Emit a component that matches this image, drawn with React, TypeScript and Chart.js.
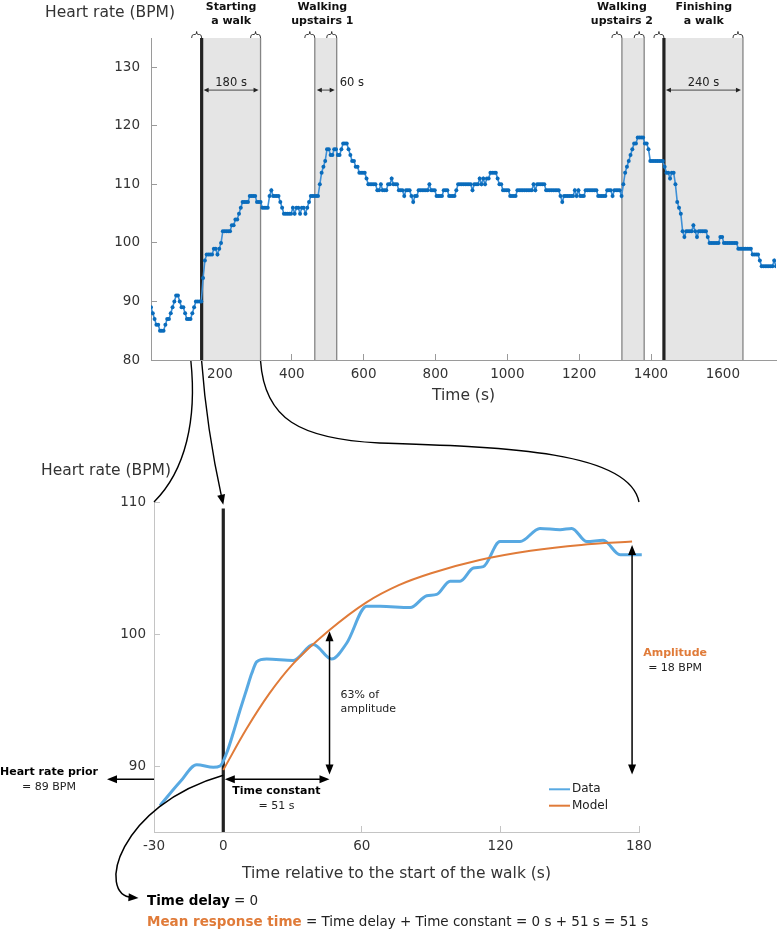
import React, { useEffect, useRef } from 'react';
import { Chart, registerables } from 'chart.js';

Chart.register(...registerables);

const FONT = "'DejaVu Sans', Verdana, sans-serif";

// ---------------- Top chart (whole recording) ----------------
const sampleStartTime = 8; // s
const sampleInterval = 5; // s
// heart-rate readings as runs: [BPM, number of consecutive samples]
const hrRuns: [number, number][] = [
  [89, 1], [88, 1], [87, 1], [86, 2], [85, 3], [86, 1], [87, 2], [88, 1], [89, 1], [90, 1],
  [91, 2], [90, 1], [89, 2], [88, 1], [87, 3], [88, 1], [89, 1], [90, 4], [94, 1], [97, 1],
  [98, 4], [99, 2], [98, 1], [99, 1], [100, 1], [102, 5], [103, 2], [104, 2], [105, 1], [106, 1],
  [107, 4], [108, 4], [107, 3], [106, 4], [108, 1], [109, 1], [108, 4], [107, 1], [106, 1], [105, 5],
  [106, 1], [105, 1], [106, 2], [105, 1], [106, 2], [105, 1], [106, 1], [107, 1], [108, 5], [110, 1],
  [112, 1], [113, 1], [114, 1], [116, 2], [115, 2], [116, 2], [115, 2], [116, 1], [117, 3], [116, 1],
  [115, 1], [114, 2], [113, 2], [112, 4], [111, 1], [110, 5], [109, 2], [110, 1], [109, 3], [110, 2],
  [111, 1], [110, 3], [109, 3], [108, 1], [109, 3], [108, 1], [107, 1], [108, 2], [109, 6], [110, 1],
  [109, 3], [108, 4], [109, 3], [108, 4], [109, 1], [110, 8], [109, 1], [110, 3], [111, 1], [110, 1],
  [111, 1], [110, 1], [111, 2], [112, 4], [111, 1], [110, 2], [109, 4], [108, 4], [109, 9], [110, 1],
  [109, 1], [110, 5], [109, 8], [108, 1], [107, 1], [108, 6], [109, 1], [108, 1], [109, 1], [108, 3],
  [109, 7], [108, 5], [109, 3], [108, 1], [109, 4], [108, 1], [110, 1], [112, 1], [113, 1], [114, 1],
  [115, 1], [116, 1], [117, 2], [118, 4], [117, 2], [116, 1], [114, 8], [113, 1], [112, 2], [111, 1],
  [112, 2], [110, 1], [107, 1], [106, 1], [105, 1], [102, 1], [101, 1], [102, 4], [103, 1], [102, 1],
  [101, 1], [102, 5], [101, 1], [100, 6], [101, 2], [100, 8], [99, 8], [98, 4], [97, 1], [96, 7],
  [97, 1], [96, 1],
];
const topXRange = [8, 1748];
const topYRange = [80, 135];
const topXTicks = [200, 400, 600, 800, 1000, 1200, 1400, 1600];
const topYTicks = [80, 90, 100, 110, 120, 130];

const phaseNames = [['Starting', 'a walk'], ['Walking', 'upstairs 1'], ['Walking', 'upstairs 2'], ['Finishing', 'a walk']];
const phaseStart = [149, 464, 1319, 1436];
const phaseEnd = [313, 525, 1381, 1656];
const phaseLabelAt = [231, 485, 1319, 1547];
const phaseThickStart = [true, false, false, true];
const phaseDuration = ['180 s', '60 s', '', '240 s'];
const durationArrowBpm = 126.1;

// ---------------- Bottom chart (start of the walk) ----------------
const relTime = [-27.4, -18.7, -11.5, -4.3, -1.4, 1.5, 4.3, 7.2, 10.1, 12.3, 14.5, 18.8, 30.3, 39.0, 46.9, 53.4, 62.1, 67.9, 80.9, 88.1, 92.4, 98.2, 102.5, 108.3, 112.6, 119.8, 128.5, 137.1, 145.8, 150.9, 157.4, 164.5, 171.8, 181.2];
const relHr = [87.0, 88.8, 90.1, 89.9, 90.0, 91.0, 92.5, 94.2, 95.8, 97.0, 97.9, 98.1, 98.0, 99.2, 98.1, 99.3, 102.1, 102.1, 102.0, 102.9, 103.0, 104.0, 104.0, 105.0, 105.1, 107.0, 107.0, 108.0, 107.9, 108.0, 107.0, 107.1, 106.0, 106.0];
const modelTime = [0, 10, 20, 30, 46, 62, 76, 90, 111, 133, 155, 177];
const modelHr = [89.7, 92.8, 95.5, 97.7, 100.3, 102.4, 103.7, 104.6, 105.6, 106.3, 106.75, 107.0];
const relXRange = [-30, 180];
const relYRange = [85, 110];
const relXTicks = [-30, 0, 60, 120, 180];
const relYTicks = [90, 100, 110];

const walkStartTime = 149;
const heartRatePrior = 89;
const amplitudeBpm = 18;
const timeConstantS = 51;
const timeDelayS = 0;
const tauMarkTime = 46;
const tauMarkBpm = 100.2;
const amplitudeMarkTime = 177;
const amplitudeTopBpm = 106.75;
const verticalArrowBaseBpm = 89.35;
const walkLineTopBpm = 109.5;

const BLUE_DOT = '#0a6cbc';
const BLUE_LINE = '#3d8fd6';
const DATA_BLUE = '#58a9e2';
const MODEL_ORANGE = '#e07b39';
const TEXT = '#333333';

const BOT_TOP = 360;

// ---------- drawing helpers ----------
function head(ctx: CanvasRenderingContext2D, x: number, y: number, ang: number, len: number, hw: number) {
  const c = Math.cos(ang), s = Math.sin(ang);
  ctx.beginPath();
  ctx.moveTo(x, y);
  ctx.lineTo(x - len * c - hw * s, y - len * s + hw * c);
  ctx.lineTo(x - len * c + hw * s, y - len * s - hw * c);
  ctx.closePath();
  ctx.fill();
}
function arrow(ctx: CanvasRenderingContext2D, x0: number, y0: number, x1: number, y1: number, both: boolean, len: number, hw: number) {
  const ang = Math.atan2(y1 - y0, x1 - x0);
  const c = Math.cos(ang), s = Math.sin(ang);
  const sx = both ? x0 + c * len * 0.7 : x0;
  const sy = both ? y0 + s * len * 0.7 : y0;
  ctx.beginPath();
  ctx.moveTo(sx, sy);
  ctx.lineTo(x1 - c * len * 0.7, y1 - s * len * 0.7);
  ctx.stroke();
  head(ctx, x1, y1, ang, len, hw);
  if (both) head(ctx, x0, y0, ang + Math.PI, len, hw);
}
function text(ctx: CanvasRenderingContext2D, s: string, x: number, y: number, size: number, opts: any = {}) {
  ctx.font = `${opts.bold ? 'bold ' : ''}${size}px ${FONT}`;
  ctx.fillStyle = opts.color || '#111';
  ctx.textAlign = opts.align || 'left';
  ctx.textBaseline = opts.baseline || 'middle';
  ctx.fillText(s, x, y);
  return ctx.measureText(s).width;
}
function brace(ctx: CanvasRenderingContext2D, xr: number, yb: number) {
  const xl = xr - 10, xm = xr - 5, h = 3.5;
  ctx.beginPath();
  ctx.moveTo(xl, yb);
  ctx.quadraticCurveTo(xl, yb - h, xl + 2, yb - h);
  ctx.lineTo(xm - 1.5, yb - h);
  ctx.quadraticCurveTo(xm, yb - h, xm, yb - 6.5);
  ctx.quadraticCurveTo(xm, yb - h, xm + 1.5, yb - h);
  ctx.lineTo(xr - 2, yb - h);
  ctx.quadraticCurveTo(xr, yb - h, xr, yb);
  ctx.stroke();
}

// ---------- top chart ----------
function buildTopPoints() {
  const pts: { x: number; y: number }[] = [];
  let t = sampleStartTime;
  for (const [bpm, n] of hrRuns) {
    for (let i = 0; i < n; i++) {
      pts.push({ x: t, y: bpm });
      t += sampleInterval;
    }
  }
  return pts;
}

const topAnnotations = {
  id: 'topAnnotations',
  beforeDatasetsDraw(chart: any) {
    const { ctx, chartArea, scales } = chart;
    const { top, bottom } = chartArea;
    const xs = scales.x, ys = scales.y;
    ctx.save();
    ctx.fillStyle = '#e5e5e5';
    phaseStart.forEach((s, i) => {
      const x0 = xs.getPixelForValue(s), x1 = xs.getPixelForValue(phaseEnd[i]);
      ctx.fillRect(x0, top, x1 - x0, bottom - top);
    });
    phaseStart.forEach((s, i) => {
      [s, phaseEnd[i]].forEach((t, k) => {
        const px = xs.getPixelForValue(t);
        const thick = k === 0 && phaseThickStart[i];
        ctx.strokeStyle = thick ? '#222' : '#858585';
        ctx.lineWidth = thick ? 3.2 : 1.3;
        ctx.beginPath();
        ctx.moveTo(px, top);
        ctx.lineTo(px, bottom);
        ctx.stroke();
        ctx.strokeStyle = '#222';
        ctx.lineWidth = 0.9;
        brace(ctx, px, top);
      });
    });
    // duration arrows
    const ay = ys.getPixelForValue(durationArrowBpm);
    ctx.strokeStyle = '#222';
    ctx.fillStyle = '#222';
    ctx.lineWidth = 0.8;
    phaseStart.forEach((s, i) => {
      if (!phaseDuration[i]) return;
      const x0 = xs.getPixelForValue(s) + 2, x1 = xs.getPixelForValue(phaseEnd[i]) - 2;
      arrow(ctx, x0, ay, x1, ay, true, 5, 2.3);
      ctx.font = `11.5px ${FONT}`;
      const w = ctx.measureText(phaseDuration[i]).width;
      if (w < x1 - x0 - 6) {
        text(ctx, phaseDuration[i], (x0 + x1) / 2, ay - 4.5, 11.5, { align: 'center', baseline: 'alphabetic', color: '#222' });
      } else {
        text(ctx, phaseDuration[i], x1 + 5, ay - 4.5, 11.5, { align: 'left', baseline: 'alphabetic', color: '#222' });
      }
    });
    ctx.restore();
  },
  afterDraw(chart: any) {
    const { ctx, chartArea, scales } = chart;
    ctx.save();
    phaseNames.forEach((lines, i) => {
      const cx = scales.x.getPixelForValue(phaseLabelAt[i]);
      text(ctx, lines[0], cx, 10, 11, { bold: true, align: 'center', baseline: 'alphabetic', color: '#111' });
      text(ctx, lines[1], cx, 24, 11, { bold: true, align: 'center', baseline: 'alphabetic', color: '#111' });
    });
    text(ctx, 'Heart rate (BPM)', chartArea.left - 106, 13, 15.5, { color: TEXT });
    ctx.restore();
  },
};

function topConfig(): any {
  return {
    type: 'line',
    data: {
      datasets: [
        {
          label: 'Heart rate',
          data: buildTopPoints(),
          borderColor: BLUE_LINE,
          borderWidth: 1.6,
          pointRadius: 2,
          pointBorderWidth: 0,
          pointBackgroundColor: BLUE_DOT,
          tension: 0,
        },
      ],
    },
    options: {
      responsive: false,
      animation: false,
      events: [],
      layout: { padding: { top: 38, right: 2, left: 0, bottom: 0 } },
      plugins: { legend: { display: false }, tooltip: { enabled: false } },
      scales: {
        x: {
          type: 'linear',
          min: topXRange[0],
          max: topXRange[1],
          afterBuildTicks: (s: any) => { s.ticks = topXTicks.map((v) => ({ value: v })); },
          afterFit: (s: any) => { s.height = 60; },
          grid: { drawOnChartArea: false, drawTicks: true, tickLength: -6, color: '#9a9a9a', tickColor: '#9a9a9a' },
          border: { color: '#9a9a9a', width: 1 },
          ticks: { padding: 12.4, color: TEXT, font: { size: 13.5, family: FONT }, maxRotation: 0, autoSkip: false, callback: (v: any) => String(v) },
          title: { display: true, text: 'Time (s)', color: TEXT, font: { size: 15.5, family: FONT }, padding: { top: 0, bottom: 14.7 } },
        },
        y: {
          type: 'linear',
          min: topYRange[0],
          max: topYRange[1],
          afterBuildTicks: (s: any) => { s.ticks = topYTicks.map((v) => ({ value: v })); },
          afterFit: (s: any) => { s.width = 151; },
          grid: { drawOnChartArea: false, drawTicks: true, tickLength: -6, color: '#9a9a9a', tickColor: '#9a9a9a' },
          border: { color: '#9a9a9a', width: 1 },
          ticks: { padding: 17, color: TEXT, font: { size: 13.5, family: FONT }, callback: (v: any) => String(v) },
        },
      },
    },
    plugins: [topAnnotations],
  };
}

// ---------- bottom chart ----------
function makeBottomPlugin(getTop: () => any) {
  return {
    id: 'bottomAnnotations',
    beforeDatasetsDraw(chart: any) {
      const { ctx, chartArea, scales } = chart;
      ctx.save();
      ctx.strokeStyle = '#222';
      ctx.lineWidth = 3.2;
      const x0 = scales.x.getPixelForValue(0);
      ctx.beginPath();
      ctx.moveTo(x0, scales.y.getPixelForValue(walkLineTopBpm));
      ctx.lineTo(x0, chartArea.bottom);
      ctx.stroke();
      ctx.restore();
    },
    afterDraw(chart: any) {
      const { ctx, chartArea, scales } = chart;
      const { left, right, top, bottom } = chartArea;
      const xp = (v: number) => scales.x.getPixelForValue(v);
      const yp = (v: number) => scales.y.getPixelForValue(v);
      ctx.save();
      ctx.strokeStyle = '#000';
      ctx.fillStyle = '#000';
      ctx.lineWidth = 1.5;

      const yPrior = yp(heartRatePrior);
      // Heart rate prior
      arrow(ctx, left, yPrior, left - 47, yPrior, false, 10, 4);
      text(ctx, 'Heart rate prior', left - 105, yPrior - 6.6, 11, { bold: true, align: 'center', color: '#000' });
      text(ctx, `= ${heartRatePrior} BPM`, left - 105, yPrior + 8, 11, { align: 'center', color: '#222' });

      // Time constant
      ctx.fillStyle = '#000';
      arrow(ctx, xp(timeDelayS) + 1.5, yPrior, xp(tauMarkTime), yPrior, true, 10, 4);
      const tcx = (xp(timeDelayS) + xp(tauMarkTime)) / 2;
      text(ctx, 'Time constant', tcx, yPrior + 11.5, 11, { bold: true, align: 'center', color: '#000' });
      text(ctx, `= ${timeConstantS} s`, tcx, yPrior + 27, 11, { align: 'center', color: '#222' });

      // 63% of amplitude
      ctx.fillStyle = '#000';
      const xt = xp(tauMarkTime);
      arrow(ctx, xt, yp(verticalArrowBaseBpm), xt, yp(tauMarkBpm), true, 10, 4);
      text(ctx, '63% of', xt + 11, yp(tauMarkBpm) + 63.6, 11, { color: '#222' });
      text(ctx, 'amplitude', xt + 11, yp(tauMarkBpm) + 77.9, 11, { color: '#222' });

      // Amplitude
      ctx.fillStyle = '#000';
      const xa = xp(amplitudeMarkTime);
      arrow(ctx, xa, yp(verticalArrowBaseBpm), xa, yp(amplitudeTopBpm), true, 10, 4);
      text(ctx, 'Amplitude', xa + 43, yPrior - 126, 11, { bold: true, align: 'center', color: MODEL_ORANGE });
      text(ctx, `= ${amplitudeBpm} BPM`, xa + 43, yPrior - 111.5, 11, { align: 'center', color: '#222' });

      // Legend
      const lx0 = right - 90, lx1 = right - 69;
      [[DATA_BLUE, 'Data', bottom - 42.7], [MODEL_ORANGE, 'Model', bottom - 26.3]].forEach(([c, l, ly]: any) => {
        ctx.strokeStyle = c;
        ctx.lineWidth = 2;
        ctx.beginPath();
        ctx.moveTo(lx0, ly);
        ctx.lineTo(lx1, ly);
        ctx.stroke();
        text(ctx, l, lx1 + 2, ly, 12, { color: '#222' });
      });

      // Captions
      const capX = left - 7;
      const capY1 = bottom + 69;
      const capY2 = bottom + 90;
      const w1 = text(ctx, 'Time delay', capX, capY1, 13.5, { bold: true, color: '#000' });
      text(ctx, ` = ${timeDelayS}`, capX + w1, capY1, 13.5, { color: '#222' });
      const w2 = text(ctx, 'Mean response time', capX, capY2, 13.5, { bold: true, color: MODEL_ORANGE });
      text(ctx, ` = Time delay + Time constant = ${timeDelayS} s + ${timeConstantS} s = ${timeDelayS + timeConstantS} s`, capX + w2, capY2, 13.5, { color: '#222' });

      // Time delay curve
      ctx.strokeStyle = '#000';
      ctx.fillStyle = '#000';
      ctx.lineWidth = 1.5;
      const s0x = xp(timeDelayS), s0y = yp(89.3);
      const ex = capX - 8.5, ey = capY1 - 3;
      const c2x = ex - 43, c2y = ey - 3;
      ctx.beginPath();
      ctx.moveTo(s0x, s0y);
      ctx.bezierCurveTo(s0x - 105, s0y + 30, c2x, c2y, ex - 6, ey - 0.5);
      ctx.stroke();
      head(ctx, ex, ey, Math.atan2(ey - c2y, ex - c2x), 10, 4);

      // Connectors from the top chart
      const tc = getTop();
      if (tc && tc.scales && tc.scales.x) {
        const tx = tc.scales.x;
        const ty0 = tc.chartArea.bottom - BOT_TOP + 1;
        ctx.lineWidth = 1.4;
        // left edge of window
        const a0x = tx.getPixelForValue(walkStartTime + relXRange[0]);
        const a3x = xp(relXRange[0]), a3y = yp(relYRange[1]);
        ctx.beginPath();
        ctx.moveTo(a0x, ty0);
        ctx.bezierCurveTo(a0x + 6, ty0 + 58, a3x + 32, a3y - 32, a3x, a3y);
        ctx.stroke();
        // walk start
        const b0x = tx.getPixelForValue(walkStartTime);
        const b3x = xp(0), b3y = yp(109.8);
        const bcx = b0x + 5, bcy = ty0 + 68;
        const ang = Math.atan2(b3y - bcy, b3x - bcx);
        ctx.beginPath();
        ctx.moveTo(b0x, ty0);
        ctx.quadraticCurveTo(bcx, bcy, b3x - Math.cos(ang) * 7, b3y - Math.sin(ang) * 7);
        ctx.stroke();
        head(ctx, b3x, b3y, ang, 10, 4);
        // right edge of window
        const c0x = tx.getPixelForValue(phaseEnd[0]);
        const c3x = xp(relXRange[1]), c3y = yp(relYRange[1]);
        const mx = c0x + 119, my = ty0 + 82;
        ctx.beginPath();
        ctx.moveTo(c0x, ty0);
        ctx.bezierCurveTo(c0x + 4, ty0 + 58, c0x + 39, ty0 + 78, mx, my);
        ctx.bezierCurveTo(mx + 120, my + 4, c3x - 10, c3y - 52, c3x, c3y);
        ctx.stroke();
      }

      // y title
      text(ctx, 'Heart rate (BPM)', 41, top - 31, 15.5, { color: TEXT });
      ctx.restore();
    },
  };
}

function bottomConfig(getTop: () => any): any {
  return {
    type: 'line',
    data: {
      datasets: [
        {
          label: 'Data',
          data: relTime.map((t, i) => ({ x: t, y: relHr[i] })),
          borderColor: DATA_BLUE,
          borderWidth: 3,
          pointRadius: 0,
          cubicInterpolationMode: 'monotone',
          clip: 8,
          order: 2,
        },
        {
          label: 'Model',
          data: modelTime.map((t, i) => ({ x: t, y: modelHr[i] })),
          borderColor: MODEL_ORANGE,
          borderWidth: 2,
          pointRadius: 0,
          cubicInterpolationMode: 'monotone',
          order: 1,
        },
      ],
    },
    options: {
      responsive: false,
      animation: false,
      events: [],
      layout: { padding: { top: 142, right: 141, left: 0, bottom: 0 } },
      plugins: { legend: { display: false }, tooltip: { enabled: false } },
      scales: {
        x: {
          type: 'linear',
          min: relXRange[0],
          max: relXRange[1],
          afterBuildTicks: (s: any) => { s.ticks = relXTicks.map((v) => ({ value: v })); },
          afterFit: (s: any) => { s.height = 99; },
          grid: { drawOnChartArea: false, drawTicks: true, tickLength: -6, color: '#c4c4c4', tickColor: '#c4c4c4' },
          border: { color: '#c4c4c4', width: 1 },
          ticks: { padding: 12.6, color: TEXT, font: { size: 13.5, family: FONT }, maxRotation: 0, autoSkip: false, callback: (v: any) => String(v) },
          title: { display: true, text: 'Time relative to the start of the walk (s)', color: TEXT, font: { size: 15.5, family: FONT }, padding: { top: 0, bottom: 47.7 } },
        },
        y: {
          type: 'linear',
          min: relYRange[0],
          max: relYRange[1],
          afterBuildTicks: (s: any) => { s.ticks = relYTicks.map((v) => ({ value: v })); },
          afterFit: (s: any) => { s.width = 154; },
          grid: { drawOnChartArea: false, drawTicks: true, tickLength: -6, color: '#c4c4c4', tickColor: '#c4c4c4' },
          border: { color: '#c4c4c4', width: 1 },
          ticks: { padding: 14, color: TEXT, font: { size: 13.5, family: FONT }, callback: (v: any) => String(v) },
        },
      },
    },
    plugins: [makeBottomPlugin(getTop)],
  };
}

export default function App() {
  const topRef = useRef<HTMLCanvasElement>(null);
  const botRef = useRef<HTMLCanvasElement>(null);
  useEffect(() => {
    document.body.style.margin = '0';
    const linked: { top: any } = { top: null };
    const topChart = new Chart(topRef.current as HTMLCanvasElement, topConfig());
    linked.top = topChart;
    const botChart = new Chart(botRef.current as HTMLCanvasElement, bottomConfig(() => linked.top));
    botChart.draw();
    return () => {
      botChart.destroy();
      topChart.destroy();
    };
  }, []);
  return (
    <div style={{ position: 'absolute', left: 0, top: 0, width: 780, height: 931, overflow: 'hidden', background: '#fff' }}>
      <canvas ref={topRef} width={780} height={420} style={{ position: 'absolute', left: 0, top: 0 }} />
      <canvas ref={botRef} width={780} height={571} style={{ position: 'absolute', left: 0, top: BOT_TOP }} />
    </div>
  );
}
